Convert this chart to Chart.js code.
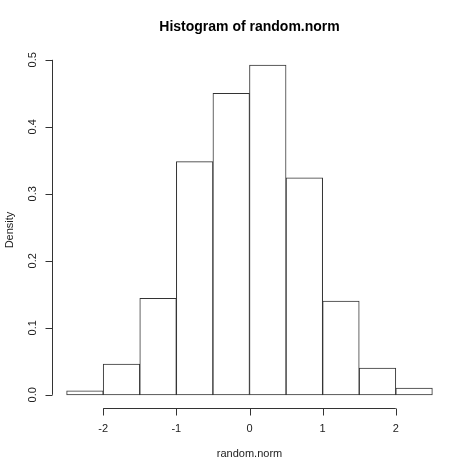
<!DOCTYPE html>
<html>
<head>
<meta charset="utf-8">
<script src="https://cdn.jsdelivr.net/npm/chart.js@4"></script>
<style>
html,body{margin:0;padding:0;background:#fff;}
#wrap{width:474px;height:473px;}
</style>
</head>
<body>
<div id="wrap"><canvas id="c" width="474" height="473"></canvas></div>
<script>
// Data (density per 0.5-wide bin)
const binCenters = [-2.25, -1.75, -1.25, -0.75, -0.25, 0.25, 0.75, 1.25, 1.75, 2.25];
const densities  = [0.006, 0.046, 0.144, 0.348, 0.450, 0.492, 0.324, 0.140, 0.040, 0.010];
const xTicks = [-2, -1, 0, 1, 2];
const xTickLabels = ["-2", "-1", "0", "1", "2"];
const yTicks = [0, 0.1, 0.2, 0.3, 0.4, 0.5];
const yTickLabels = ["0.0", "0.1", "0.2", "0.3", "0.4", "0.5"];
const titleText = "Histogram of random.norm";
const xTitle = "random.norm";
const yTitle = "Density";

const FONT = '"Liberation Sans", Arial, sans-serif';
const INK = '#333';

const rAxes = {
  id: 'rAxes',
  afterDraw(chart) {
    const ctx = chart.ctx;
    const xs = chart.scales.x, ys = chart.scales.y;
    const area = chart.chartArea;
    const tick = 7;
    ctx.save();
    ctx.strokeStyle = INK;
    ctx.lineWidth = 1;
    ctx.fillStyle = '#222';
    // x axis
    const xa = Math.round(area.bottom) + 0.5;
    ctx.beginPath();
    ctx.moveTo(xs.getPixelForValue(xTicks[0]), xa);
    ctx.lineTo(xs.getPixelForValue(xTicks[xTicks.length - 1]), xa);
    xTicks.forEach(v => {
      const px = Math.round(xs.getPixelForValue(v)) + 0.5;
      ctx.moveTo(px, xa);
      ctx.lineTo(px, xa + tick);
    });
    ctx.stroke();
    ctx.font = '11px ' + FONT;
    ctx.textAlign = 'center';
    ctx.textBaseline = 'middle';
    xTicks.forEach((v, i) => {
      ctx.fillText(xTickLabels[i], xs.getPixelForValue(v), area.bottom + 21);
    });
    ctx.fillText(xTitle, (area.left + area.right) / 2, area.bottom + 46);
    // y axis
    const ya = Math.round(area.left) + 0.5;
    ctx.beginPath();
    ctx.moveTo(ya, ys.getPixelForValue(yTicks[0]));
    ctx.lineTo(ya, ys.getPixelForValue(yTicks[yTicks.length - 1]));
    yTicks.forEach(v => {
      const py = Math.round(ys.getPixelForValue(v)) + 0.5;
      ctx.moveTo(ya, py);
      ctx.lineTo(ya - tick, py);
    });
    ctx.stroke();
    yTicks.forEach((v, i) => {
      ctx.save();
      ctx.translate(area.left - 19, ys.getPixelForValue(v));
      ctx.rotate(-Math.PI / 2);
      ctx.fillText(yTickLabels[i], 0, 0);
      ctx.restore();
    });
    ctx.save();
    ctx.translate(area.left - 42, (area.top + area.bottom) / 2);
    ctx.rotate(-Math.PI / 2);
    ctx.fillText(yTitle, 0, 0);
    ctx.restore();
    // title
    ctx.fillStyle = '#000';
    ctx.font = 'bold 14px ' + FONT;
    ctx.fillText(titleText, (area.left + area.right) / 2, 27);
    ctx.restore();
  }
};

const xLo = binCenters[0] - 0.25, xHi = binCenters[binCenters.length - 1] + 0.25;
const yHi = Math.max(...densities);
const xPad = (xHi - xLo) * 0.04, yPad = yHi * 0.04;

new Chart(document.getElementById('c'), {
  type: 'bar',
  data: {
    datasets: [{
      data: binCenters.map((c, i) => ({ x: c, y: densities[i] })),
      backgroundColor: '#fff',
      borderColor: INK,
      borderWidth: 1,
      borderSkipped: false,
      barPercentage: 1,
      categoryPercentage: 1
    }]
  },
  options: {
    responsive: false,
    animation: false,
    devicePixelRatio: 1,
    layout: { padding: { left: 52, right: 27, top: 52, bottom: 65 } },
    plugins: { legend: { display: false }, tooltip: { enabled: false }, title: { display: false } },
    scales: {
      x: { type: 'linear', display: false, min: xLo - xPad, max: xHi + xPad, offset: false },
      y: { type: 'linear', display: false, min: -yPad, max: yHi + yPad }
    }
  },
  plugins: [rAxes]
});
</script>
</body>
</html>
